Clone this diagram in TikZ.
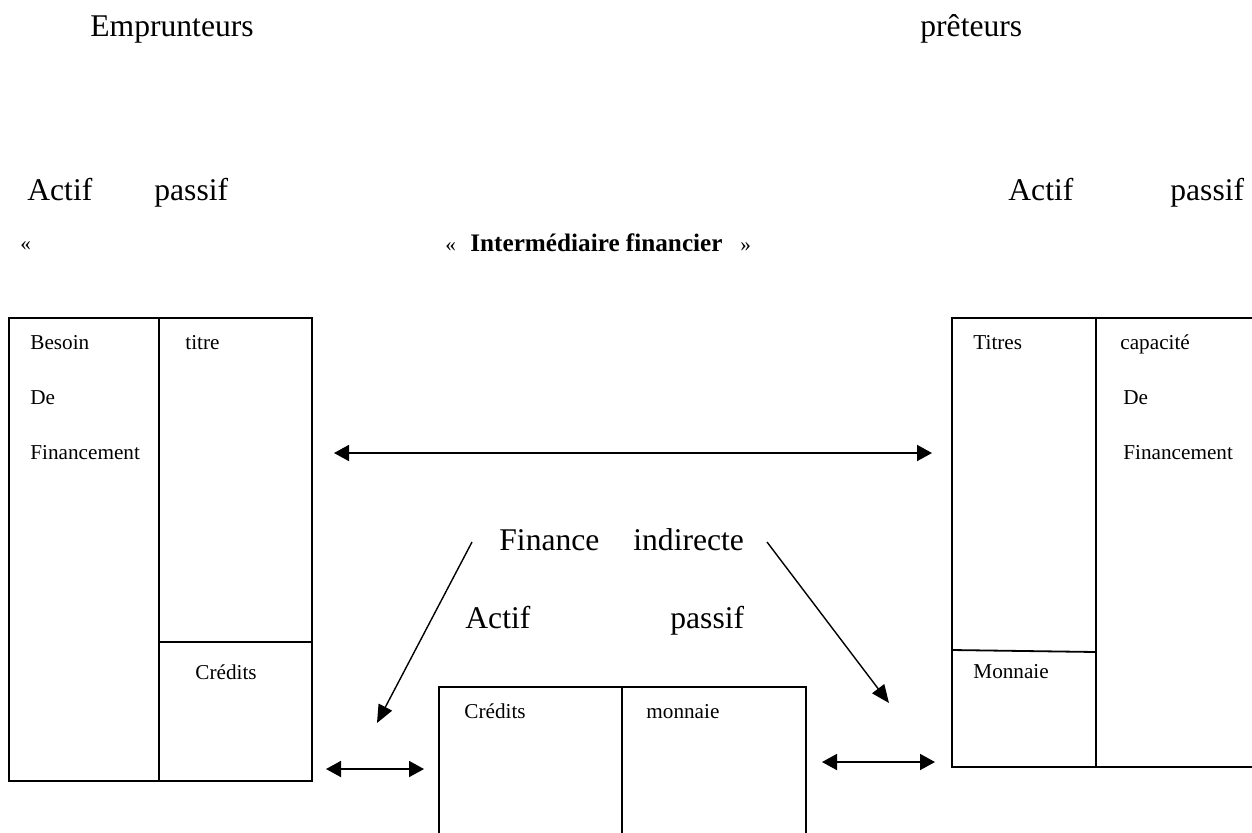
\documentclass[tikz,border=0pt]{standalone}
\usepackage{fontspec}
\setmainfont{Liberation Serif}
\usetikzlibrary{arrows.meta}
\tikzset{
  grand/.style={font=\fontsize{15.8}{19}\selectfont, inner sep=0pt, anchor=base west},
  petit/.style={font=\fontsize{10.6}{13}\selectfont, inner sep=0pt, anchor=base west},
  gras/.style={font=\fontsize{12.6}{15}\selectfont\bfseries, inner sep=0pt, anchor=base west},
  bilan/.style={line width=0.9pt},
  flux/.style={line width=0.9pt, {Triangle[length=7.5pt,width=8pt]}-{Triangle[length=7.5pt,width=8pt]}},
  renvoi/.style={line width=0.7pt, -{Triangle[length=9pt,width=7.5pt]}}
}
\begin{document}
\begin{tikzpicture}[x=0.5pt,y=-0.5pt]
\useasboundingbox (0,0) rectangle (1252,832);
%% titres
\node[grand] (emp) at (90,36) {Emprunteurs};
\node[grand] (pret) at (920,36) {prêteurs};
\node[grand] (actg) at (27,200) {Actif};
\node[grand] (pasg) at (154,200) {passif};
\node[grand] (actd) at (1008,200) {Actif};
\node[grand] (pasd) at (1170,200) {passif};
\node[petit] (guil) at (20,250) {«};
\node[petit] (gouv) at (445,251.7) {«};
\node[gras] (inter) at (470,251.7) {Intermédiaire financier};
\node[petit] (gfer) at (740,251.7) {»};
%% emprunteurs
\draw[bilan] (9,318) rectangle (312,781);
\draw[bilan] (159,318) -- (159,781);
\draw[bilan] (159,642) -- (312,642);
\node[petit] (bes) at (30,349) {Besoin};
\node[petit] (deg) at (30,404) {De};
\node[petit] (fing) at (30,459) {Financement};
\node[petit] (tit) at (185,349) {titre};
\node[petit] (credg) at (195,679) {Crédits};
%% preteurs
\draw[bilan] (1262,318) -- (952,318) -- (952,767) -- (1262,767);
\draw[bilan] (1096,318) -- (1096,767);
\draw[bilan] (952,650) -- (1096,652);
\node[petit] (titd) at (973,349) {Titres};
\node[petit] (cap) at (1120,349) {capacité};
\node[petit] (ded) at (1123,404) {De};
\node[petit] (find) at (1123,459) {Financement};
\node[petit] (monn) at (973,678) {Monnaie};
%% intermediaire
\node[grand] (fin) at (499,550) {Finance};
\node[grand] (ind) at (633,550) {indirecte};
\node[grand] (actm) at (465,628) {Actif};
\node[grand] (pasm) at (670,628) {passif};
\draw[bilan] (439,842) -- (439,687) -- (806,687) -- (806,842);
\draw[bilan] (622,687) -- (622,842);
\node[petit] (credm) at (464,718) {Crédits};
\node[petit] (monm) at (646,718) {monnaie};
%% fleches
\coordinate (a1) at (334,453);
\coordinate (a2) at (932,453);
\coordinate (b1) at (326,769);
\coordinate (b2) at (424,769);
\coordinate (c1) at (822,762);
\coordinate (c2) at (935,762);
\coordinate (d1) at (472,542);
\coordinate (d2) at (377,723);
\coordinate (e1) at (767,542);
\coordinate (e2) at (889,703);
\draw[flux] (a1) -- (a2);
\draw[flux] (b1) -- (b2);
\draw[flux] (c1) -- (c2);
\draw[renvoi] (d1) -- (d2);
\draw[renvoi] (e1) -- (e2);
\end{tikzpicture}
\end{document}
